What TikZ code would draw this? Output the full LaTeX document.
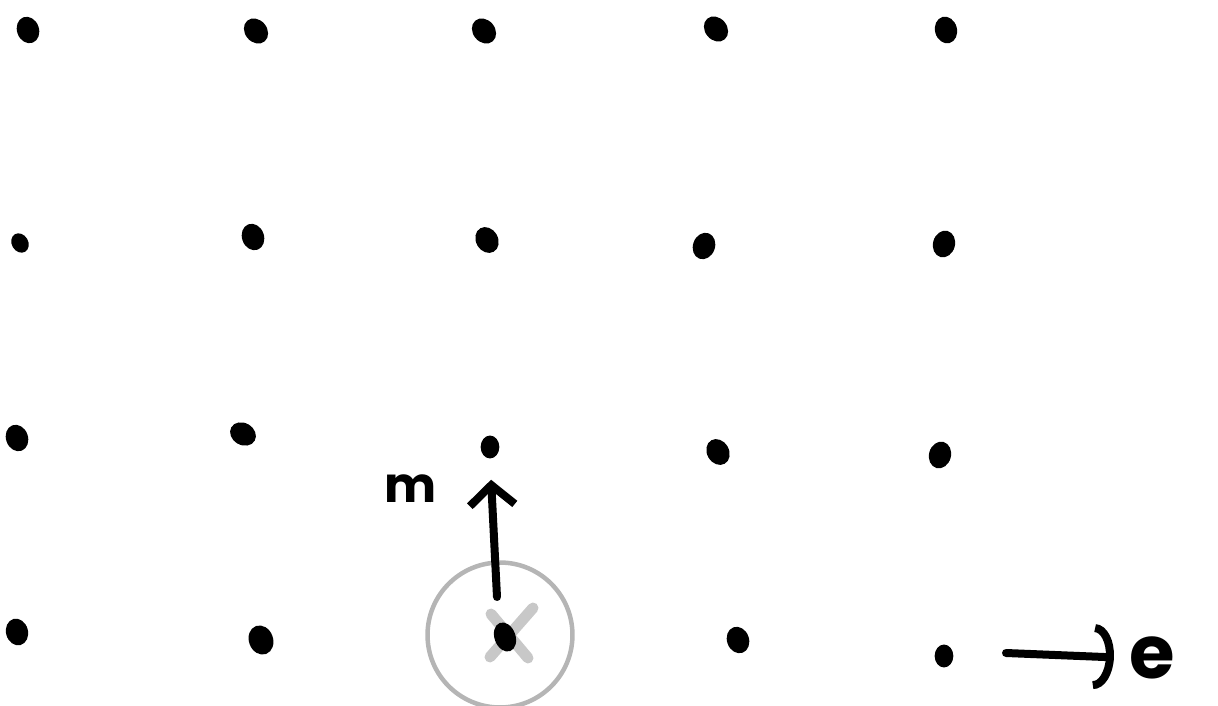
\documentclass[tikz,border=0pt]{standalone}
\usepackage{fontspec}
\newfontfamily\handfont{Poppins}
\usetikzlibrary{arrows.meta,shapes.geometric}
\definecolor{vacgray}{HTML}{B5B5B5}
\definecolor{crossgray}{HTML}{C8C8C8}

\begin{document}
\begin{tikzpicture}[x=0.02cm, y=-0.02cm,
    site/.style={ellipse, fill=black, inner sep=0pt, minimum width=0.44cm, minimum height=0.54cm},
    hand/.style={font={\handfont\bfseries\fontsize{28}{28}\selectfont}, inner sep=0pt},
    hop/.style={line width=1.6mm, line cap=round}]
    \useasboundingbox (0,0) rectangle (1218,706);
    % lattice sites, row by row
    \node[site, rotate=20] (d11) at (28,30) {};
    \node[site, rotate=40] (d12) at (256,31) {};
    \node[site, rotate=40] (d13) at (484,31) {};
    \node[site, rotate=40] (d14) at (716,29) {};
    \node[site, rotate=15] (d15) at (946,30) {};
    \node[site, rotate=30, scale=0.75] (d21) at (20,243) {};
    \node[site, rotate=20] (d22) at (253,237) {};
    \node[site, rotate=30] (d23) at (487,240) {};
    \node[site, rotate=-20] (d24) at (704,246) {};
    \node[site, rotate=-15] (d25) at (944,244) {};
    \node[site, rotate=20] (d31) at (17,438) {};
    \node[site, rotate=60] (d32) at (243,434) {};
    \node[site, rotate=0, scale=0.85] (d33) at (490,447) {};
    \node[site, rotate=30] (d34) at (718,452) {};
    \node[site, rotate=-15] (d35) at (940,455) {};
    \node[site, rotate=15] (d41) at (17,632) {};
    \node[site, rotate=20, scale=1.1] (d42) at (261,640) {};
    \node[site, rotate=20] (d44) at (738,640) {};
    \node[site, rotate=0, scale=0.85] (d45) at (944,656) {};
    % vacancy with the jumping atom
    \node[circle, draw=vacgray, line width=0.09cm, minimum size=2.9cm] (vac) at (500,635) {};
    \draw[crossgray, line width=0.22cm, line cap=round] (533,608) -- (490,657);
    \draw[crossgray, line width=0.22cm, line cap=round] (491,614) -- (528,658);
    \node[site, rotate=20, minimum width=0.42cm, minimum height=0.6cm] (d43) at (505,637) {};
    % migration jump
    \coordinate (mtail) at (497,597);
    \draw[hop, -{Straight Barb[length=4mm, width=9mm, line width=1.6mm]}, shorten >=0.42cm] (mtail) -- (d33.south);
    \node[hand] (m) at (411,489) {m};
    % field direction
    \coordinate (etail) at (1006,653);
    \node[hand, font={\handfont\bfseries\fontsize{42}{42}\selectfont}] (e) at (1152,658) {e};
    \draw[hop, -{Arc Barb[length=4mm, width=13mm, line width=1.6mm]}, shorten >=0.3cm] (etail) -- (e.west);
\end{tikzpicture}
\end{document}
